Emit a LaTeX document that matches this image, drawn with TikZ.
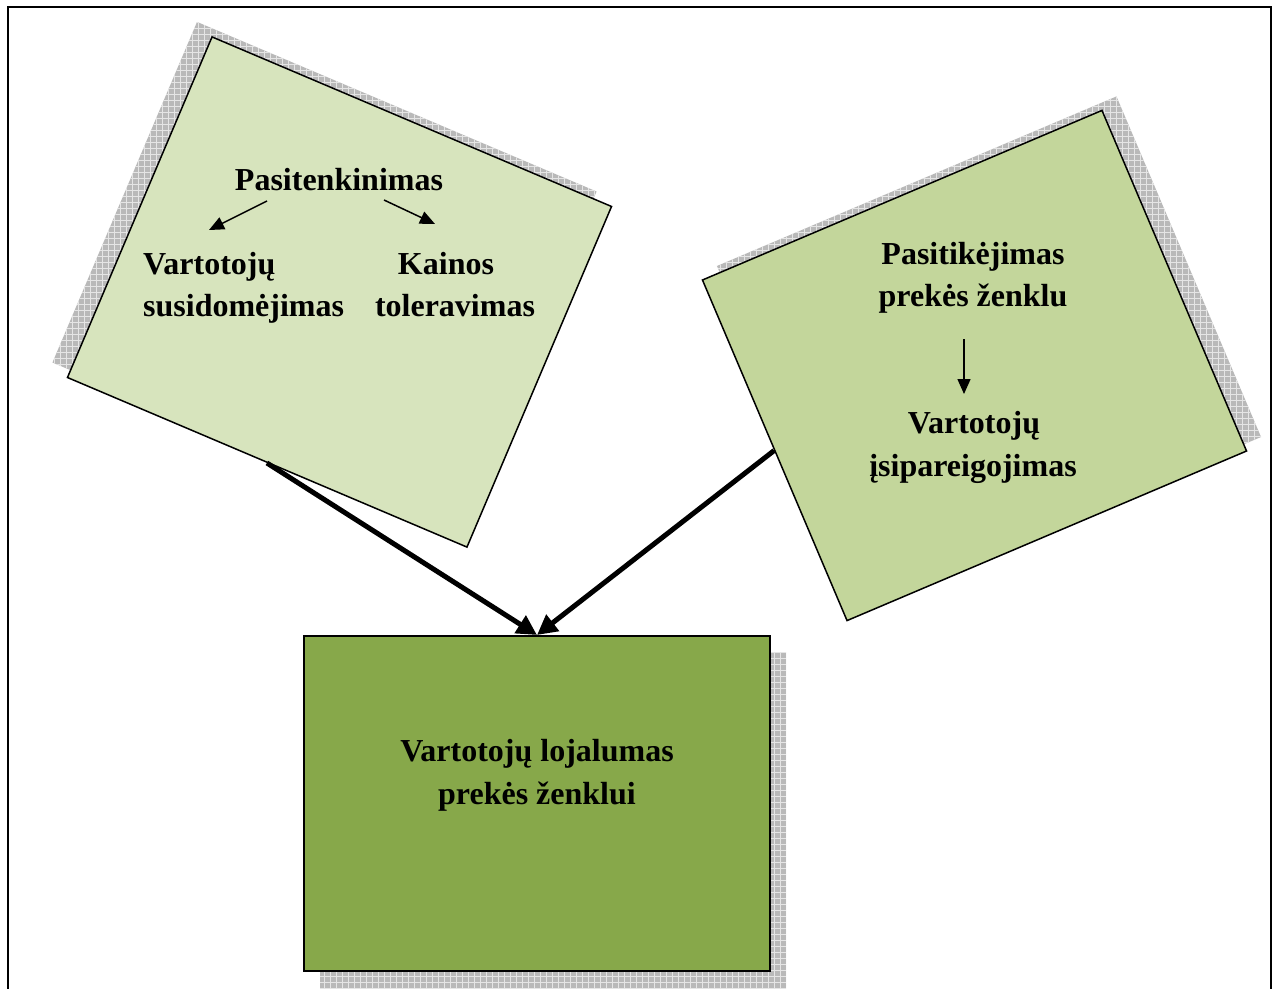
\documentclass[tikz,border=0pt]{standalone}
\usepackage{fontspec}
\setmainfont{Liberation Serif}
\usetikzlibrary{arrows.meta,patterns.meta}
\definecolor{lightbox}{RGB}{215,228,189}
\definecolor{midbox}{RGB}{195,214,155}
\definecolor{darkbox}{RGB}{135,168,74}
\definecolor{shadowgray}{RGB}{185,185,185}
\tikzset{
  shadowfill/.style={fill=shadowgray, draw=none},
  shadowgrid/.style={pattern={Hatch[angle=0,distance=6pt,line width=0.7pt]}, pattern color=white!80!gray},
  tiltbox/.style={draw=black, line width=1.5pt, minimum width=434pt, minimum height=370pt, inner sep=0pt},
  lbl/.style={font=\fontsize{32}{42}\selectfont\bfseries, inner sep=0pt},
  thinarrow/.style={line width=1.5pt, -{Triangle[length=15pt,width=13pt]}},
  bigarrow/.style={line width=5pt, -{Triangle[length=20pt,width=20pt]}},
}
\begin{document}
\begin{tikzpicture}[x=1pt,y=-1pt]
\useasboundingbox (0,0) rectangle (1274,988);
\clip (0,0) rectangle (1274,988);
\fill[white] (0,0) rectangle (1274,988);
% outer frame (open at bottom)
\draw[line width=2pt] (7.5,1000) -- (7.5,6.5) -- (1271,6.5) -- (1271,1000);

% shadows
\node[shadowfill, minimum width=434pt, minimum height=370pt, inner sep=0pt, rotate=-23] (lsh) at (324.5,277) {};
\node[shadowgrid, minimum width=434pt, minimum height=370pt, inner sep=0pt, rotate=-23] (lshg) at (324.5,277) {};
\node[shadowfill, minimum width=434pt, minimum height=370pt, inner sep=0pt, rotate=23] (rsh) at (989,351.5) {};
\node[shadowgrid, minimum width=434pt, minimum height=370pt, inner sep=0pt, rotate=23] (rshg) at (989,351.5) {};
\node[shadowfill, minimum width=466pt, minimum height=336pt, inner sep=0pt] (bsh) at (553,820) {};
\node[shadowgrid, minimum width=466pt, minimum height=336pt, inner sep=0pt] (bshg) at (553,820) {};

% boxes
\node[tiltbox, fill=lightbox, rotate=-23] (left) at (339.5,292) {};
\node[tiltbox, fill=midbox, rotate=23] (right) at (974.5,365.5) {};
\node[draw=black, line width=2pt, fill=darkbox, minimum width=466pt, minimum height=335pt, inner sep=0pt] (bottom) at (537,803.5) {};

% left box texts
\node[lbl, anchor=base] (pas) at (339,190) {Pasitenkinimas};
\node[lbl, anchor=base west] (var1) at (143,274) {Vartotojų};
\node[lbl, anchor=base west] (sus) at (143,316) {susidomėjimas};
\node[lbl, anchor=base] (kai) at (446,274) {Kainos};
\node[lbl, anchor=base] (tol) at (455,316) {toleravimas};
\coordinate (pa1) at (267,201);
\coordinate (va1) at (209,230);
\coordinate (pa2) at (384,200);
\coordinate (ka1) at (435,224);
\draw[thinarrow] (pa1) -- (va1);
\draw[thinarrow] (pa2) -- (ka1);

% right box texts
\node[lbl, anchor=base] (pst) at (973,264) {Pasitikėjimas};
\node[lbl, anchor=base] (prz) at (973,306) {prekės ženklu};
\node[lbl, anchor=base] (var2) at (974,433) {Vartotojų};
\node[lbl, anchor=base] (isi) at (973,476) {įsipareigojimas};
\coordinate (pz1) at (964,339);
\coordinate (vr1) at (964,394);
\draw[thinarrow] (pz1) -- (vr1);

% bottom box texts
\node[lbl, anchor=base] (loj) at (537,761) {Vartotojų lojalumas};
\node[lbl, anchor=base] (prk) at (537,804) {prekės ženklui};

% big connectors
\draw[bigarrow] (left.south) -- (bottom.north);
\draw[bigarrow] (right.west) -- (bottom.north);
\end{tikzpicture}
\end{document}
